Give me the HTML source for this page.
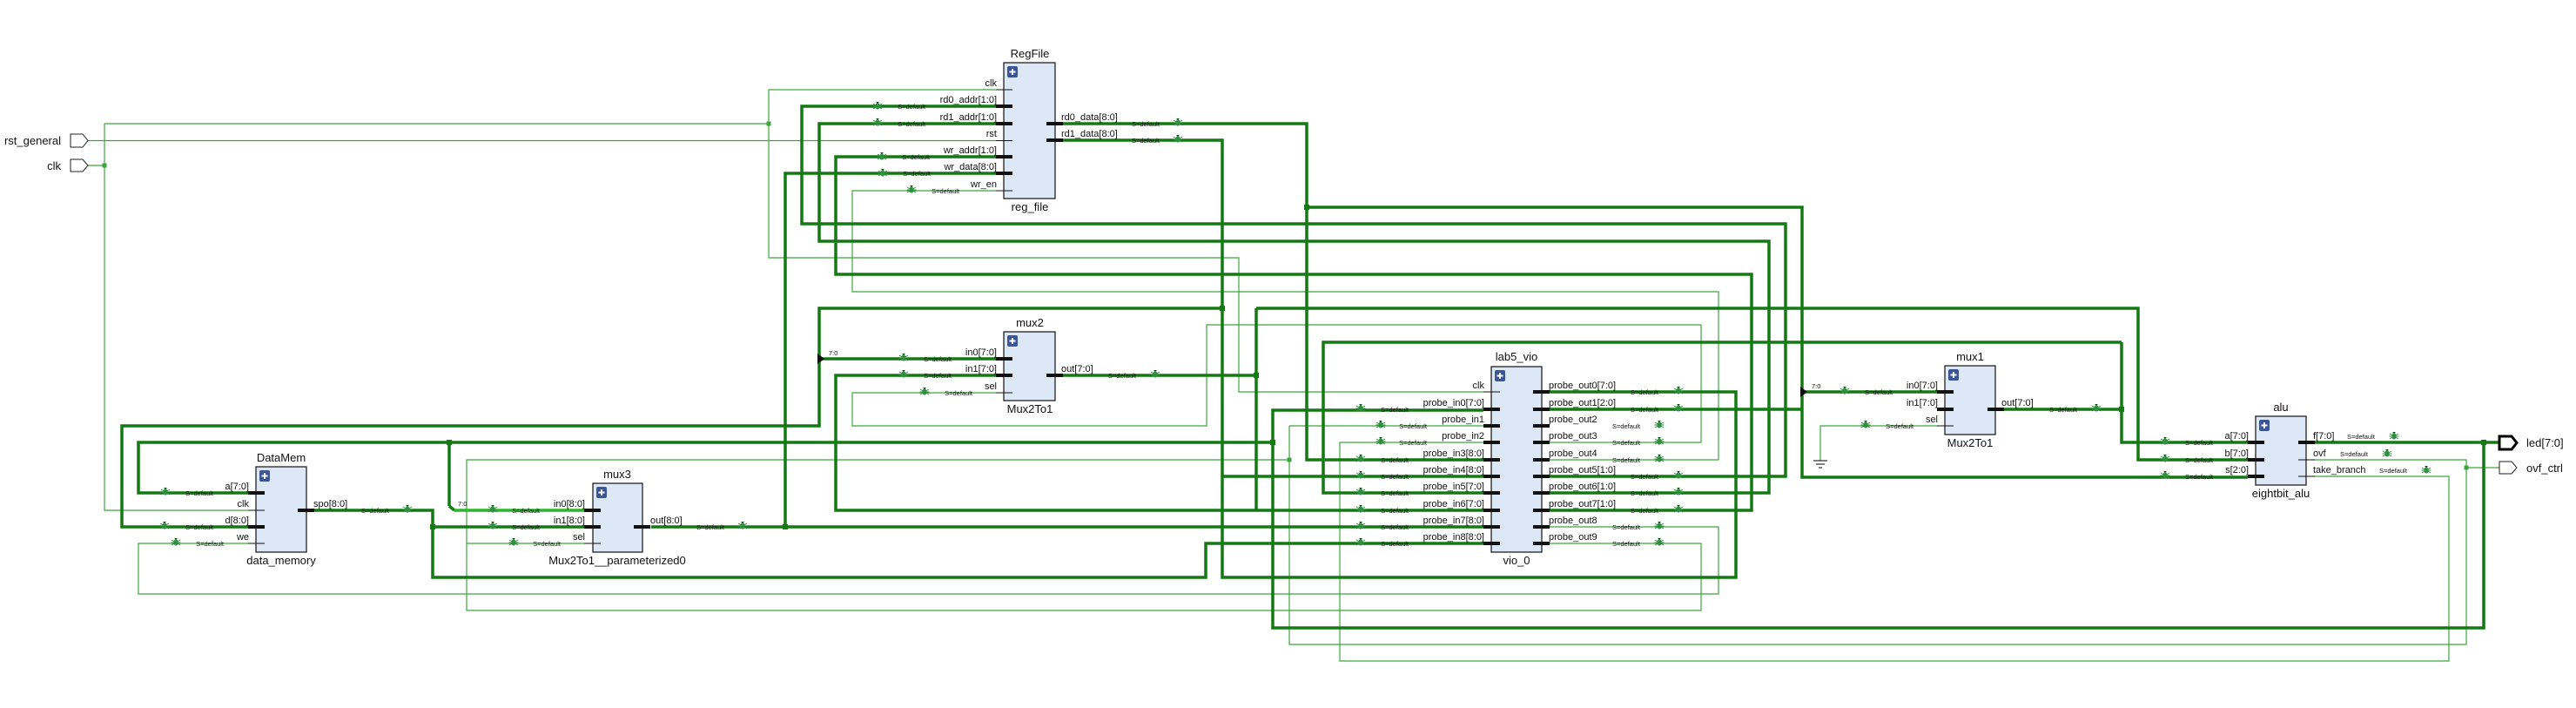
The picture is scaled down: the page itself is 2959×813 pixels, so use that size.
<!DOCTYPE html>
<html><head><meta charset="utf-8"><style>
html,body{margin:0;padding:0;background:#fff;}
svg{display:block;font-family:"Liberation Sans",sans-serif;}
.T{fill:none;stroke:#137a13;stroke-width:3.5;}
.t{fill:none;stroke:#3ca63c;stroke-width:1.2;}
.pl{font-size:11px;fill:#111;}
.s{font-size:7.5px;fill:#111;}
.ti{font-size:13px;fill:#111;text-anchor:middle;}
.bx{fill:#dde8f7;stroke:#111;stroke-width:1.2;}
.bt{stroke:#111;stroke-width:4;}
.bn{stroke:#111;stroke-width:1;}
.e{text-anchor:end;}
</style></head><body>
<svg width="2959" height="813" viewBox="0 0 2959 813" xmlns="http://www.w3.org/2000/svg">
<defs>
<g id="bug"><ellipse cx="0" cy="0" rx="2.6" ry="3.6" fill="#2f8f3f"/><path d="M-5 -3 L5 3 M5 -3 L-5 3 M-5.5 0 H5.5 M-1.5 -5 L0 -3 L1.5 -5" stroke="#2f8f3f" stroke-width="1"/></g>
<g id="plus"><rect x="0" y="0" width="12" height="13" rx="2" fill="#3b5697"/><path d="M6 3 V10 M2.5 6.5 H9.5" stroke="#fff" stroke-width="2"/></g>
</defs>

<!-- thin wires -->
<path class="t" d="M101 161.5 H1144"/>
<path class="t" d="M101 190 H120 M120 142 V586 H285 M120 142 H883 V103 H1144 M883 103 V296 H1423 V450 H1704"/>
<path class="t" d="M1144 219 H979 V335 H1974 V528 H1780"/>
<path class="t" d="M1144 451 H979 V489 H1386 V373 H1954 V508 H1780"/>
<path class="t" d="M1780 605 H1974 V682 H159 V624 H285"/>
<path class="t" d="M1780 624 H1954 V701 H536 V528 H1481 M536 624 H671 M1481 489 V740 H2833 V528 H2658 M1481 489 H1704 M2833 537 H2871"/>
<path class="t" d="M2658 547 H2813 V759 H1539 V508 H1704"/>
<path class="t" d="M2225 489 H2091 V529"/>
<path d="M2083 529 H2099 M2086 533 H2096 M2089 537 H2093" stroke="#333" stroke-width="1.2"/>

<!-- thick wires -->
<path class="T" d="M1144 122 H921 V257 H2051 V547 H1780"/>
<path class="T" d="M1144 142 H941 V277 H2032 V566 H1780"/>
<path class="T" d="M1144 180 H960 V315 H2012 V586 H1780"/>
<path class="T" d="M1144 199 H902 V605"/>
<path class="T" d="M748 605 H1704"/>
<path class="T" d="M1221 142 H1501 V528 H1704 M1501 238 H2070 V548 H2582 M2070 450 H2225 M1780 470 H2070"/>
<path class="T" d="M1221 161 H1404 V663 H1994 V450 H1780 M1404 354 H941 V489 H140 V605 H285 M941 412 H1144 M1404 547 H1704"/>
<path class="T" d="M1144 431 H960 V586 H1704"/>
<path class="T" d="M1221 431 H1443 M1443 354 V586 M1443 354 H2456 V528 H2582"/>
<path class="T" d="M2658 508 H2870 M2853 508 V721 H1462 V471 H1704 M1462 508 H159 V566 H285 M516 508 V581"/>
<path class="T" d="M516 581 L522 586" />
<path d="M522 586 H671" stroke="#2db52d" stroke-width="3.5"/>
<path class="T" d="M361 586 H497 V663 H1385 V624 H1704 M497 605 H671"/>
<path class="T" d="M2301 470 H2437 M2437 393 V508 H2582 M2437 393 H1520 V566 H1704"/>

<!-- dots -->
<g fill="#137a13">
<rect x="1498" y="235" width="6" height="6"/><rect x="1401" y="351" width="6" height="6"/><rect x="1440" y="428" width="6" height="6"/>
<rect x="899" y="602" width="6" height="6"/><rect x="494" y="602" width="6" height="6"/><rect x="513" y="505" width="6" height="6"/>
<rect x="1459" y="505" width="6" height="6"/><rect x="2850" y="505" width="6" height="6"/><rect x="2434" y="467" width="6" height="6"/>
</g>
<g fill="#3ca63c">
<rect x="117.5" y="187.5" width="5" height="5"/><rect x="880.5" y="139.5" width="5" height="5"/><rect x="1478.5" y="525.5" width="5" height="5"/><rect x="2830.5" y="534.5" width="5" height="5"/>
</g>
<!-- arrows -->
<polygon points="939,406 947,412 939,418" fill="#111"/>
<polygon points="2068,444 2076,450 2068,456" fill="#111"/>
<text x="952" y="408" class="s">7:0</text>
<text x="2081" y="446" class="s">7:0</text>
<text x="526" y="581" class="s">7:0</text>

<!-- ports -->
<polygon points="81,154 95,154 101,161.5 95,169 81,169" fill="#fff" stroke="#222" stroke-width="1"/>
<polygon points="81,183 95,183 101,190 95,197 81,197" fill="#fff" stroke="#222" stroke-width="1"/>
<text x="70" y="166" class="pl e" style="font-size:13px">rst_general</text>
<text x="70" y="195" class="pl e" style="font-size:13px">clk</text>
<polygon points="2871,501 2885,501 2891,508.5 2885,516 2871,516" fill="#fff" stroke="#000" stroke-width="3"/>
<polygon points="2871,530 2885,530 2891,537 2885,544 2871,544" fill="#fff" stroke="#222" stroke-width="1"/>
<text x="2902" y="513" class="pl" style="font-size:13px">led[7:0]</text>
<text x="2902" y="542" class="pl" style="font-size:13px">ovf_ctrl</text>

<!-- RegFile -->
<rect class="bx" x="1153" y="72" width="59" height="156"/><use href="#plus" x="1157" y="76"/>
<text x="1183" y="66" class="ti">RegFile</text><text x="1183" y="242" class="ti">reg_file</text>
<path class="bn" d="M1144 103 H1163 M1144 161.5 H1163 M1144 219 H1163"/>
<path class="bt" d="M1144 122 H1163 M1144 142 H1163 M1144 180 H1163 M1144 199 H1163 M1202 142 H1221 M1202 161 H1221"/>
<g class="pl e"><text x="1145" y="99">clk</text><text x="1145" y="118">rd0_addr[1:0]</text><text x="1145" y="138">rd1_addr[1:0]</text><text x="1145" y="157">rst</text><text x="1145" y="176">wr_addr[1:0]</text><text x="1145" y="195">wr_data[8:0]</text><text x="1145" y="215">wr_en</text></g>
<g class="s e"><text x="1063" y="125">S=default</text><text x="1063" y="145">S=default</text><text x="1068" y="183">S=default</text><text x="1069" y="202">S=default</text><text x="1102" y="222">S=default</text></g>
<use href="#bug" x="1008" y="122"/><use href="#bug" x="1008" y="141"/><use href="#bug" x="1013" y="180"/><use href="#bug" x="1014" y="199"/><use href="#bug" x="1047" y="218"/>
<g class="pl"><text x="1219" y="138">rd0_data[8:0]</text><text x="1219" y="157">rd1_data[8:0]</text></g>
<g class="s"><text x="1300" y="145">S=default</text><text x="1300" y="164">S=default</text></g>
<use href="#bug" x="1353" y="141"/><use href="#bug" x="1353" y="160"/>

<!-- mux2 -->
<rect class="bx" x="1153" y="381" width="59" height="79"/><use href="#plus" x="1157" y="385"/>
<text x="1183" y="375" class="ti">mux2</text><text x="1183" y="474" class="ti">Mux2To1</text>
<path class="bn" d="M1144 451 H1163"/><path class="bt" d="M1144 412 H1163 M1144 431 H1163 M1202 431 H1221"/>
<g class="pl e"><text x="1145" y="408">in0[7:0]</text><text x="1145" y="427">in1[7:0]</text><text x="1145" y="447">sel</text></g>
<g class="s e"><text x="1093" y="415">S=default</text><text x="1093" y="434">S=default</text><text x="1117" y="454">S=default</text></g>
<use href="#bug" x="1038" y="411"/><use href="#bug" x="1038" y="430"/><use href="#bug" x="1062" y="450"/>
<text x="1219" y="427" class="pl">out[7:0]</text><text x="1273" y="434" class="s">S=default</text><use href="#bug" x="1327" y="430"/>

<!-- vio -->
<rect class="bx" x="1713" y="421" width="58" height="213"/><use href="#plus" x="1717" y="425"/>
<text x="1742" y="414" class="ti">lab5_vio</text><text x="1742" y="648" class="ti">vio_0</text>
<path class="bn" d="M1704 450 H1723"/>
<path class="bt" d="M1704 470 H1723 M1704 489 H1723 M1704 508 H1723 M1704 528 H1723 M1704 547 H1723 M1704 566 H1723 M1704 586 H1723 M1704 605 H1723 M1704 624 H1723
M1761 450 H1780 M1761 470 H1780 M1761 489 H1780 M1761 508 H1780 M1761 528 H1780 M1761 547 H1780 M1761 566 H1780 M1761 586 H1780 M1761 605 H1780 M1761 624 H1780"/>
<g class="pl e"><text x="1705" y="446">clk</text><text x="1705" y="466">probe_in0[7:0]</text><text x="1705" y="485">probe_in1</text><text x="1705" y="504">probe_in2</text><text x="1705" y="524">probe_in3[8:0]</text><text x="1705" y="543">probe_in4[8:0]</text><text x="1705" y="562">probe_in5[7:0]</text><text x="1705" y="582">probe_in6[7:0]</text><text x="1705" y="601">probe_in7[8:0]</text><text x="1705" y="620">probe_in8[8:0]</text></g>
<g class="s e"><text x="1618" y="473">S=default</text><text x="1639" y="492">S=default</text><text x="1639" y="511">S=default</text><text x="1618" y="531">S=default</text><text x="1618" y="550">S=default</text><text x="1618" y="569">S=default</text><text x="1618" y="589">S=default</text><text x="1618" y="608">S=default</text><text x="1618" y="627">S=default</text></g>
<use href="#bug" x="1563" y="469"/><use href="#bug" x="1586" y="488"/><use href="#bug" x="1586" y="507"/><use href="#bug" x="1563" y="527"/><use href="#bug" x="1563" y="546"/><use href="#bug" x="1563" y="565"/><use href="#bug" x="1563" y="585"/><use href="#bug" x="1563" y="604"/><use href="#bug" x="1563" y="623"/>
<g class="pl"><text x="1779" y="446">probe_out0[7:0]</text><text x="1779" y="466">probe_out1[2:0]</text><text x="1779" y="485">probe_out2</text><text x="1779" y="504">probe_out3</text><text x="1779" y="524">probe_out4</text><text x="1779" y="543">probe_out5[1:0]</text><text x="1779" y="562">probe_out6[1:0]</text><text x="1779" y="582">probe_out7[1:0]</text><text x="1779" y="601">probe_out8</text><text x="1779" y="620">probe_out9</text></g>
<g class="s"><text x="1873" y="453">S=default</text><text x="1873" y="473">S=default</text><text x="1852" y="492">S=default</text><text x="1852" y="511">S=default</text><text x="1852" y="531">S=default</text><text x="1873" y="550">S=default</text><text x="1873" y="569">S=default</text><text x="1873" y="589">S=default</text><text x="1852" y="608">S=default</text><text x="1852" y="627">S=default</text></g>
<use href="#bug" x="1928" y="449"/><use href="#bug" x="1928" y="469"/><use href="#bug" x="1906" y="488"/><use href="#bug" x="1906" y="507"/><use href="#bug" x="1906" y="527"/><use href="#bug" x="1928" y="546"/><use href="#bug" x="1928" y="565"/><use href="#bug" x="1928" y="585"/><use href="#bug" x="1906" y="604"/><use href="#bug" x="1906" y="623"/>

<!-- mux1 -->
<rect class="bx" x="2234" y="420" width="58" height="79"/><use href="#plus" x="2238" y="424"/>
<text x="2263" y="414" class="ti">mux1</text><text x="2263" y="513" class="ti">Mux2To1</text>
<path class="bn" d="M2225 489 H2244"/><path class="bt" d="M2225 450 H2244 M2225 470 H2244 M2283 470 H2302"/>
<g class="pl e"><text x="2226" y="446">in0[7:0]</text><text x="2226" y="466">in1[7:0]</text><text x="2226" y="485">sel</text></g>
<g class="s e"><text x="2174" y="453">S=default</text><text x="2198" y="492">S=default</text></g>
<use href="#bug" x="2119" y="449"/><use href="#bug" x="2143" y="488"/>
<text x="2299" y="466" class="pl">out[7:0]</text><text x="2354" y="473" class="s">S=default</text><use href="#bug" x="2408" y="469"/>

<!-- alu -->
<rect class="bx" x="2591" y="478" width="58" height="79"/><use href="#plus" x="2595" y="482"/>
<text x="2620" y="472" class="ti">alu</text><text x="2620" y="571" class="ti">eightbit_alu</text>
<path class="bt" d="M2582 508 H2601 M2582 528 H2601 M2582 547 H2601 M2640 508 H2659"/><path class="bn" d="M2640 528 H2659 M2640 547 H2659"/>
<g class="pl e"><text x="2583" y="504">a[7:0]</text><text x="2583" y="524">b[7:0]</text><text x="2583" y="543">s[2:0]</text></g>
<g class="s e"><text x="2542" y="511">S=default</text><text x="2542" y="531">S=default</text><text x="2542" y="550">S=default</text></g>
<use href="#bug" x="2487" y="507"/><use href="#bug" x="2487" y="527"/><use href="#bug" x="2487" y="546"/>
<g class="pl"><text x="2657" y="504">f[7:0]</text><text x="2657" y="524">ovf</text><text x="2657" y="543">take_branch</text></g>
<g class="s"><text x="2696" y="504">S=default</text><text x="2688" y="524">S=default</text><text x="2733" y="543">S=default</text></g>
<use href="#bug" x="2750" y="501"/><use href="#bug" x="2742" y="521"/><use href="#bug" x="2787" y="540"/>

<!-- DataMem -->
<rect class="bx" x="294" y="536" width="58" height="98"/><use href="#plus" x="298" y="540"/>
<text x="323" y="530" class="ti">DataMem</text><text x="323" y="648" class="ti">data_memory</text>
<path class="bt" d="M285 566 H304 M285 605 H304 M342 586 H361"/><path class="bn" d="M285 586 H304 M285 624 H304"/>
<g class="pl e"><text x="286" y="562">a[7:0]</text><text x="286" y="582">clk</text><text x="286" y="601">d[8:0]</text><text x="286" y="620">we</text></g>
<g class="s e"><text x="245" y="569">S=default</text><text x="245" y="608">S=default</text><text x="257" y="627">S=default</text></g>
<use href="#bug" x="190" y="565"/><use href="#bug" x="189" y="604"/><use href="#bug" x="202" y="623"/>
<text x="360" y="582" class="pl">spo[8:0]</text><text x="415" y="589" class="s">S=default</text><use href="#bug" x="468" y="585"/>

<!-- mux3 -->
<rect class="bx" x="681" y="555" width="57" height="79"/><use href="#plus" x="685" y="559"/>
<text x="709" y="549" class="ti">mux3</text><text x="709" y="648" class="ti">Mux2To1__parameterized0</text>
<path class="bt" d="M671 586 H690 M671 605 H690 M728 605 H747"/><path class="bn" d="M671 624 H690"/>
<g class="pl e"><text x="672" y="582">in0[8:0]</text><text x="672" y="601">in1[8:0]</text><text x="672" y="620">sel</text></g>
<g class="s e"><text x="620" y="589">S=default</text><text x="620" y="608">S=default</text><text x="644" y="627">S=default</text></g>
<use href="#bug" x="566" y="585"/><use href="#bug" x="566" y="604"/><use href="#bug" x="590" y="623"/>
<text x="747" y="601" class="pl">out[8:0]</text><text x="800" y="608" class="s">S=default</text><use href="#bug" x="853" y="604"/>
</svg>
</body></html>
